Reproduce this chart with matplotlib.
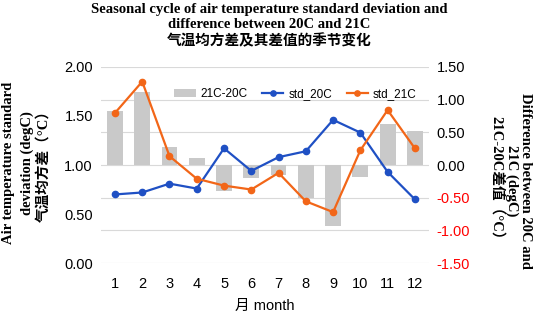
import matplotlib.pyplot as plt
import numpy as np

plt.rcParams['font.family'] = ['Liberation Sans', 'Noto Sans CJK SC']

months = [1, 2, 3, 4, 5, 6, 7, 8, 9, 10, 11, 12]
std_20C = [0.70, 0.72, 0.81, 0.76, 1.17, 0.94, 1.08, 1.14, 1.46, 1.33, 0.93, 0.65]
std_21C = [1.53, 1.85, 1.09, 0.86, 0.79, 0.75, 0.92, 0.63, 0.52, 1.15, 1.56, 1.17]
diff = [0.83, 1.12, 0.27, 0.10, -0.39, -0.20, -0.16, -0.51, -0.94, -0.18, 0.62, 0.52]

title_lines = ['Seasonal cycle of air temperature standard deviation and',
               'difference between 20C and 21C',
               '气温均方差及其差值的季节变化']
left_lines = ['Air temperature standard', 'deviation (degC)', '气温均方差（°C）']
right_lines = ['Difference between 20C and', '21C (degC)', '21C-20C差值（°C）']

serif = ['Liberation Serif', 'Noto Sans CJK SC']
blue = '#1f50c4'
orange = '#f26618'
x = np.arange(len(months))
W, H = 539, 314

fig = plt.figure(figsize=(5.39, 3.14), dpi=100)
ax_bar = fig.add_axes([0.188, 0.162, 0.607, 0.625])
ax = ax_bar.twinx()

# bars on the right scale (drawn first -> behind lines)
ax_bar.bar(x, diff, width=0.58, color='#c9c9c9', label='21C-20C', zorder=2)
ax_bar.set_ylim(-1.5, 1.5)
rticks = np.arange(-1.5, 1.51, 0.5)
ax_bar.set_yticks(rticks)
ax_bar.set_yticklabels(['%.2f' % v for v in rticks])
ax_bar.yaxis.tick_right()
for t, v in zip(ax_bar.get_yticklabels(), rticks):
    t.set_color('red' if v < 0 else 'black')
ax_bar.grid(axis='y', color='#d9d9d9', linewidth=0.8, zorder=0)
ax_bar.set_axisbelow(True)

ax.plot(x, std_20C, '-o', color=blue, lw=1.6, ms=4.5, label='std_20C')
ax.plot(x, std_21C, '-o', color=orange, lw=1.6, ms=4.5, label='std_21C')
ax.set_ylim(0, 2.0)
lticks = np.arange(0, 2.01, 0.5)
ax.set_yticks(lticks)
ax.set_yticklabels(['%.2f' % v for v in lticks])
ax.yaxis.tick_left()

ax_bar.set_xlim(-0.5, 11.5)
ax_bar.set_xticks(x)
ax_bar.set_xticklabels([str(m) for m in months])

for a in (ax, ax_bar):
    for s in a.spines.values():
        s.set_visible(False)
    a.tick_params(length=0, labelsize=10.5, pad=6)
ax_bar.tick_params(axis='x', pad=10)
ax_bar.set_xlabel('月 month', fontsize=10.5, labelpad=6)

# title, one text per line
for txt, yp in zip(title_lines, [9, 25, 41]):
    fig.text(0.5, 1 - yp / H, txt, family=serif, fontweight='bold',
             fontsize=10.5, ha='center', va='center')

# axis titles, one text per line
for txt, xp in zip(left_lines, [9, 27, 43]):
    fig.text(xp / W, 1 - 163 / H, txt, family=serif, fontweight='bold',
             fontsize=10.5, rotation=90, ha='center', va='center')
for txt, xp in zip(right_lines, [526, 512, 497]):
    fig.text(xp / W, 1 - 181 / H, txt, family=serif, fontweight='bold',
             fontsize=10.5, rotation=270, ha='center', va='center')

h1, l1 = ax_bar.get_legend_handles_labels()
h2, l2 = ax.get_legend_handles_labels()
leg = ax.legend(h1 + h2, l1 + l2, ncol=3, frameon=False, fontsize=8.5,
                loc='center', bbox_to_anchor=(0.593, 0.86), handlelength=1.8,
                columnspacing=1.25, handletextpad=0.4, markerscale=0.85)

fig.savefig('out.png', dpi=100)
